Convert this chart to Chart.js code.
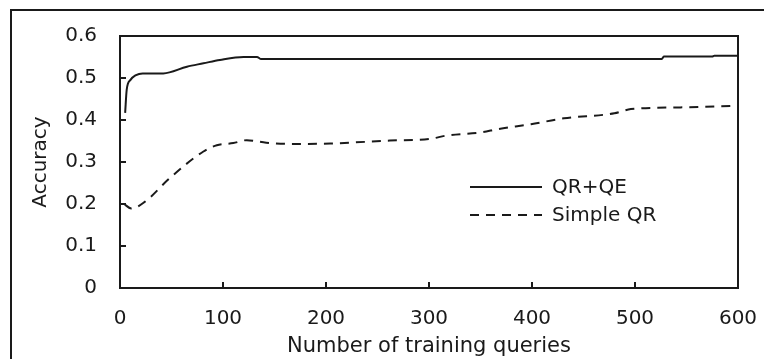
<!DOCTYPE html>
<html>
<head>
<meta charset="utf-8">
<script src="https://cdn.jsdelivr.net/npm/chart.js@4/dist/chart.umd.min.js"></script>
<style>
  body { margin: 0; background: #fff; }
  #wrap { width: 764px; height: 359px; }
</style>
</head>
<body>
<div id="wrap"><canvas id="accChart"></canvas></div>
<script>
// values
const qeX = [5, 6.5, 10, 15, 22, 42, 65, 81, 97, 120, 133, 137, 526, 528, 575, 577, 600];
const qeY = [0.417, 0.472, 0.495, 0.506, 0.511, 0.511, 0.527, 0.535, 0.543, 0.55, 0.55, 0.545, 0.545, 0.551, 0.551, 0.553, 0.553];

const qrX = [4, 11, 24, 48, 81, 94, 110, 123, 142, 168, 204, 262, 301, 317, 352, 366, 399, 431, 480, 496, 544, 600];
const qrY = [0.2, 0.189, 0.205, 0.261, 0.325, 0.34, 0.345, 0.352, 0.346, 0.343, 0.344, 0.351, 0.355, 0.363, 0.371, 0.378, 0.39, 0.404, 0.416, 0.426, 0.43, 0.434];

const seriesNames = ["QR+QE", "Simple QR"];
const yTickLabels = ["0", "0.1", "0.2", "0.3", "0.4", "0.5", "0.6"];
const xTickLabels = ["0", "100", "200", "300", "400", "500", "600"];

const font = "'DejaVu Sans', sans-serif";
const ink = "#1a1a1a";

function pts(xs, ys) {
  return xs.map((x, i) => ({ x: x, y: ys[i] }));
}

// frame round the plot, figure edge and the legend inside the plot
const framePlugin = {
  id: "frame",
  afterDraw(chart) {
    const c = chart.ctx;
    const a = chart.chartArea;
    c.save();
    c.strokeStyle = ink;
    c.lineWidth = 2;
    c.strokeRect(a.left, a.top, a.right - a.left, a.bottom - a.top);
    // outer figure border (left + top)
    c.beginPath();
    c.moveTo(11, 359);
    c.lineTo(11, 10);
    c.lineTo(764, 10);
    c.stroke();

    // legend
    c.font = "20px " + font;
    c.textBaseline = "middle";
    c.fillStyle = ink;
    chart.data.datasets.forEach((ds, i) => {
      const y = a.top + 151 + i * 28;
      c.beginPath();
      c.lineWidth = 2;
      c.strokeStyle = ds.borderColor;
      c.setLineDash(ds.borderDash || []);
      c.moveTo(a.left + 350, y);
      c.lineTo(a.left + 422, y);
      c.stroke();
      c.setLineDash([]);
      c.fillText(ds.label, a.left + 432, y + 1);
    });
    c.restore();
  }
};

new Chart(document.getElementById("accChart"), {
  type: "line",
  data: {
    datasets: [
      {
        label: seriesNames[0],
        data: pts(qeX, qeY),
        borderColor: ink,
        borderWidth: 2,
        pointRadius: 0,
        cubicInterpolationMode: "monotone",
      },
      {
        label: seriesNames[1],
        data: pts(qrX, qrY),
        borderColor: ink,
        borderWidth: 2,
        borderDash: [9, 7],
        pointRadius: 0,
        cubicInterpolationMode: "monotone",
      },
    ],
  },
  options: {
    responsive: true,
    maintainAspectRatio: false,
    animation: false,
    layout: {
      padding: { left: 25, right: 26, top: 36, bottom: 0 },
    },
    scales: {
      x: {
        type: "linear",
        min: 0,
        max: 600,
        border: { display: false },
        grid: {
          drawOnChartArea: false,
          drawTicks: true,
          tickLength: -6,
          color: ink,
          lineWidth: 2,
        },
        ticks: {
          stepSize: 100,
          padding: 25,
          color: ink,
          font: { family: font, size: 20 },
          callback: (v, i) => xTickLabels[i],
          maxRotation: 0,
        },
        title: {
          display: true,
          text: "Number of training queries",
          color: ink,
          font: { family: font, size: 21 },
          padding: { top: 2, bottom: 0 },
        },
        afterFit(scale) {
          scale.height = 71;
          scale.paddingLeft = 0;
          scale.paddingRight = 0;
        },
      },
      y: {
        min: 0,
        max: 0.6,
        border: { display: false },
        grid: {
          drawOnChartArea: false,
          drawTicks: true,
          tickLength: -6,
          color: ink,
          lineWidth: 2,
        },
        ticks: {
          stepSize: 0.1,
          padding: 29,
          color: ink,
          font: { family: font, size: 20 },
          callback: (v, i) => yTickLabels[i],
        },
        title: {
          display: true,
          text: "Accuracy",
          color: ink,
          font: { family: font, size: 20 },
          padding: { top: 4, bottom: 0 },
        },
        afterFit(scale) {
          scale.width = 95;
          scale.paddingTop = 0;
          scale.paddingBottom = 0;
        },
      },
    },
    plugins: {
      legend: { display: false },
      tooltip: { enabled: false },
    },
  },
  plugins: [framePlugin],
});
</script>
</body>
</html>
